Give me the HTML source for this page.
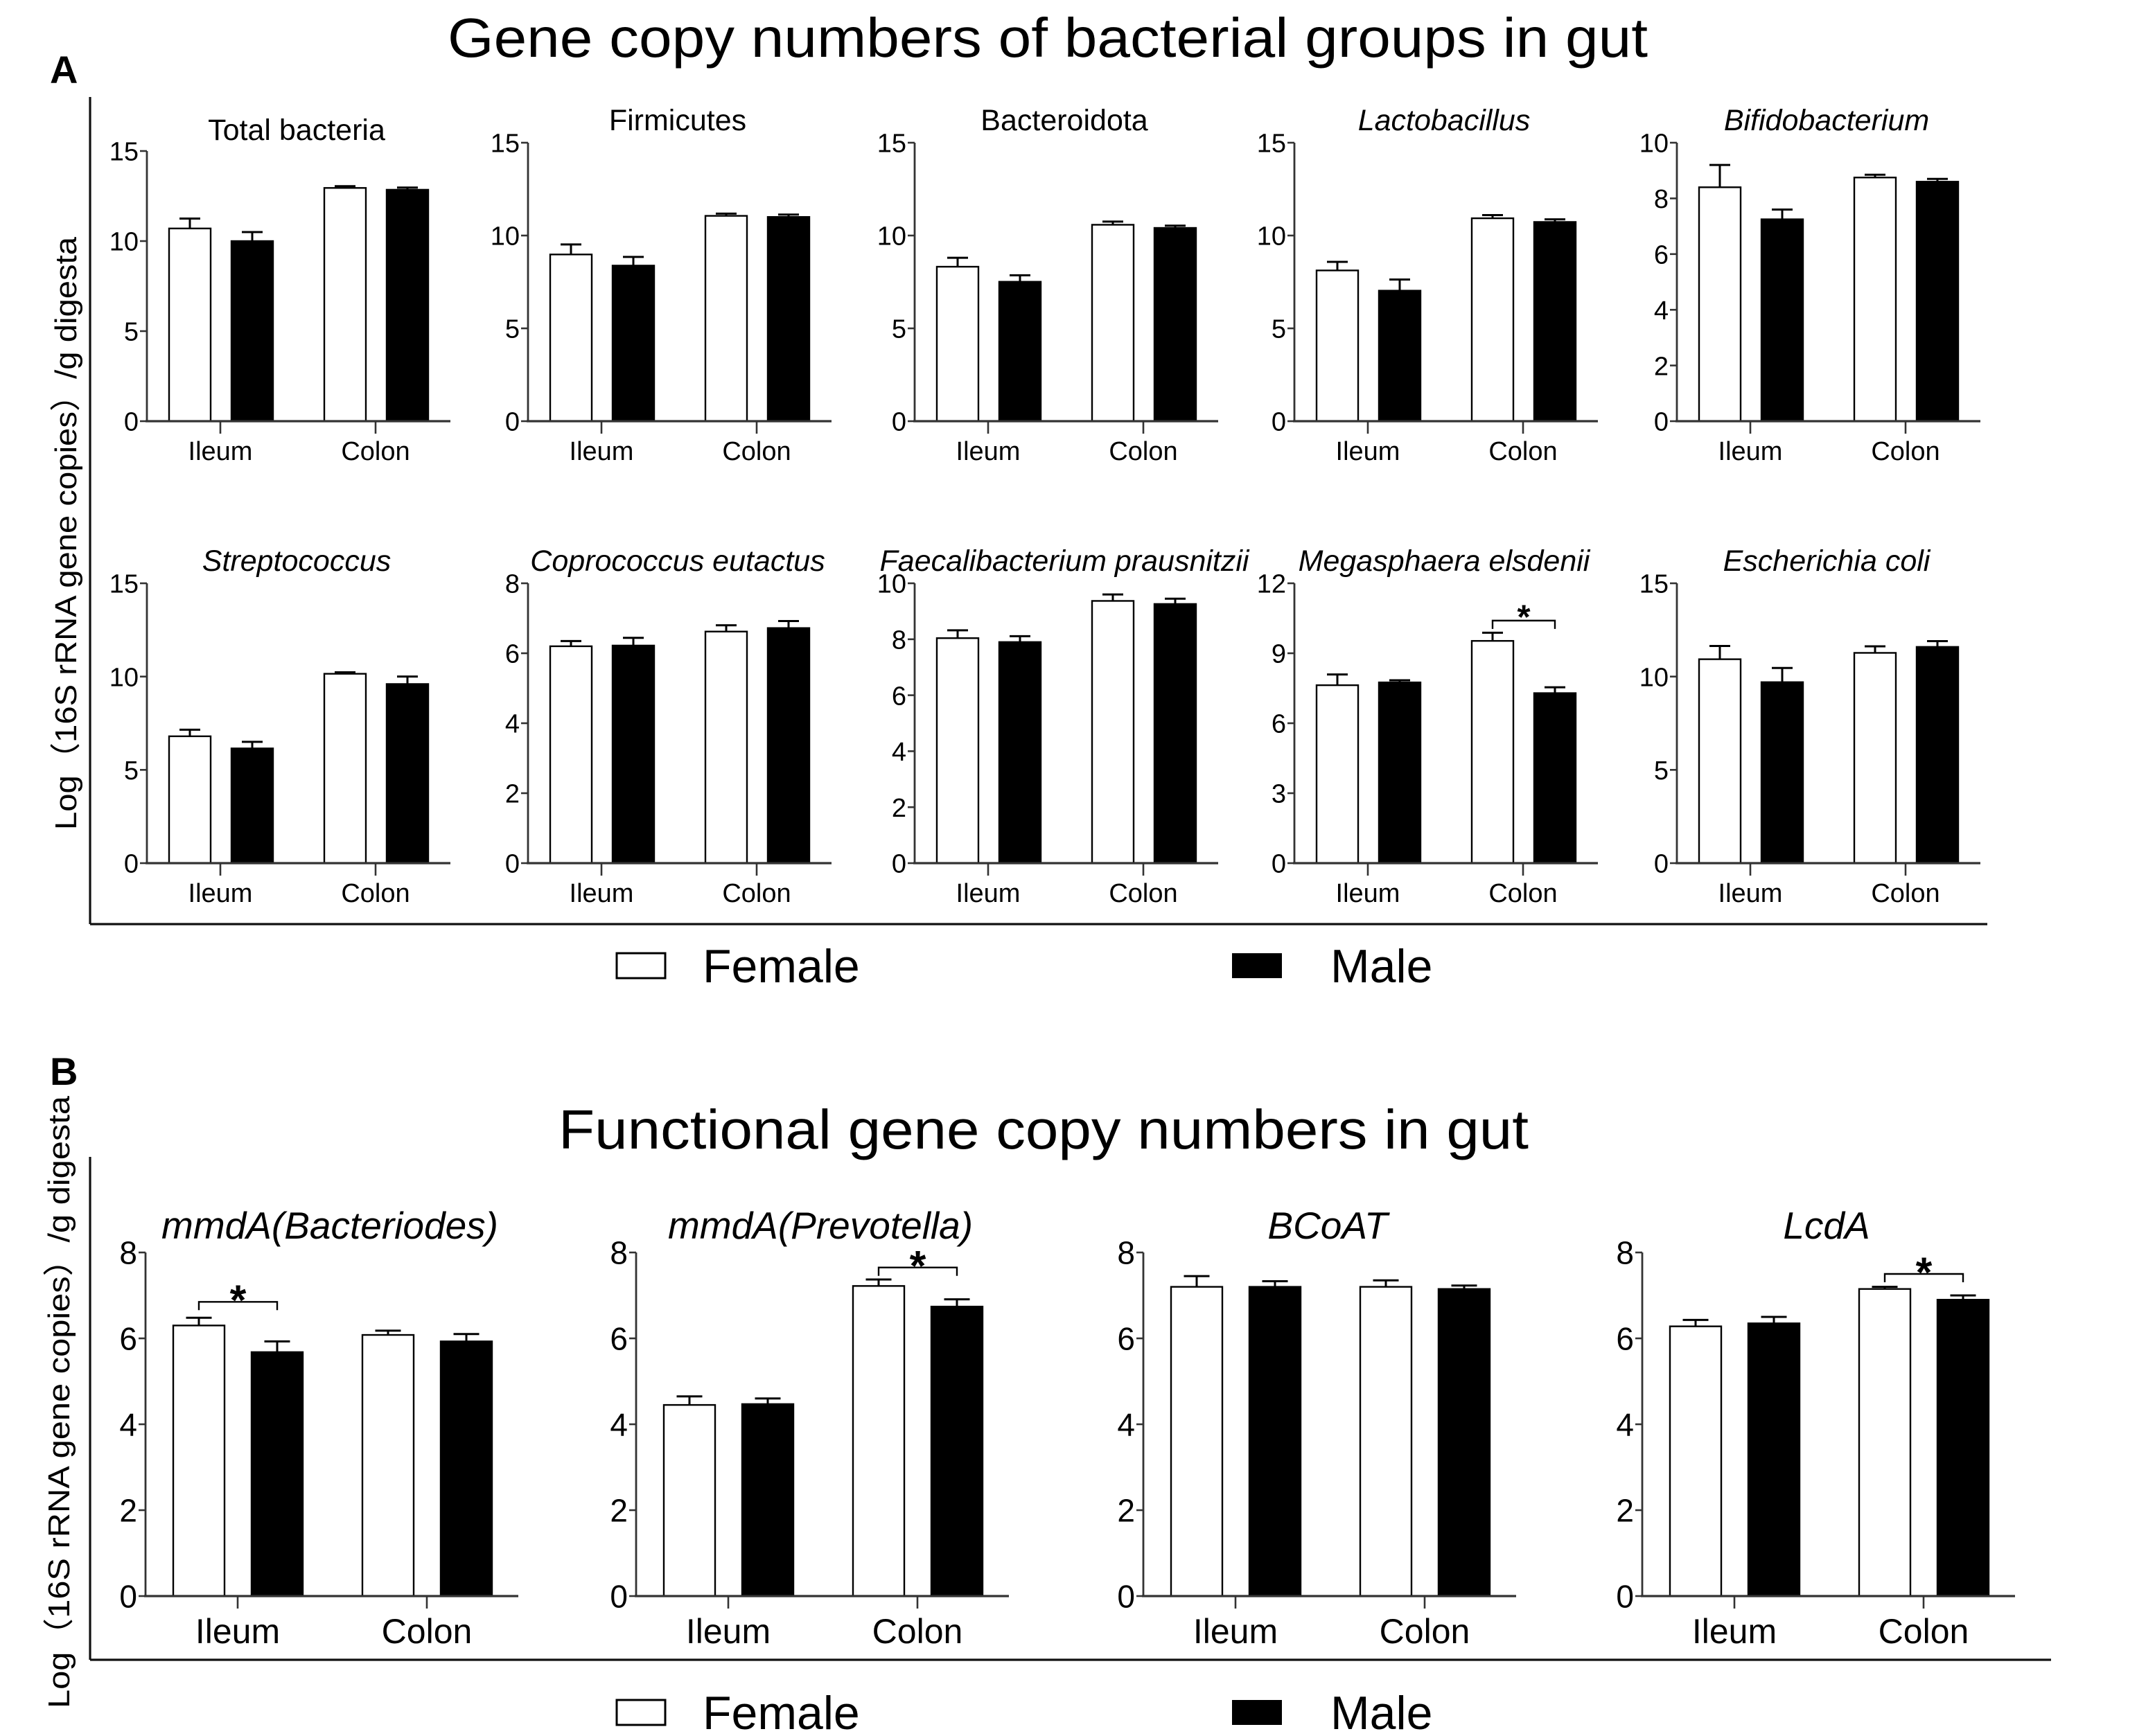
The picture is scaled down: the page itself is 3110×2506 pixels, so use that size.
<!DOCTYPE html>
<html><head><meta charset="utf-8"><title>Gene copy numbers</title>
<style>
html,body{margin:0;padding:0;background:#fff;}
svg{display:block;}
text{font-family:"Liberation Sans","Noto Sans CJK SC",sans-serif;fill:#000;}
</style></head>
<body>
<svg id="fig" xmlns="http://www.w3.org/2000/svg" width="3110" height="2506" viewBox="0 0 1555 1253">
<rect x="0" y="0" width="1555" height="1253" fill="#fff"/>
<text x="756" y="41" text-anchor="middle" font-size="40" textLength="866" lengthAdjust="spacingAndGlyphs">Gene copy numbers of bacterial groups in gut</text>
<text x="36" y="60" font-size="28" font-weight="bold">A</text>
<text x="753" y="829" text-anchor="middle" font-size="40" textLength="700" lengthAdjust="spacingAndGlyphs">Functional gene copy numbers in gut</text>
<text x="36" y="783" font-size="28" font-weight="bold">B</text>
<line x1="65" y1="70" x2="65" y2="667" stroke="#111" stroke-width="1.6"/>
<line x1="65" y1="667" x2="1434" y2="667" stroke="#111" stroke-width="1.6"/>
<line x1="65" y1="835" x2="65" y2="1198" stroke="#111" stroke-width="1.6"/>
<line x1="65" y1="1198" x2="1480" y2="1198" stroke="#111" stroke-width="1.6"/>
<text transform="translate(55,385) rotate(-90)" text-anchor="middle" font-size="22" textLength="428" lengthAdjust="spacingAndGlyphs">Log（16S rRNA gene copies）/g digesta</text>
<text transform="translate(50,1012) rotate(-90)" text-anchor="middle" font-size="22" textLength="442" lengthAdjust="spacingAndGlyphs">Log（16S rRNA gene copies）/g digesta</text>
<rect x="445" y="688" width="35" height="18" fill="#fff" stroke="#000" stroke-width="1.5"/>
<text x="507" y="709" font-size="34">Female</text>
<rect x="889" y="688" width="36" height="18" fill="#000"/>
<text x="960" y="709" font-size="34">Male</text>
<rect x="445" y="1227" width="35" height="18" fill="#fff" stroke="#000" stroke-width="1.5"/>
<text x="507" y="1248" font-size="34">Female</text>
<rect x="889" y="1227" width="36" height="18" fill="#000"/>
<text x="960" y="1248" font-size="34">Male</text>
<g id="plots"></g>
</svg>
<script>
// ---------- data ----------
const categories = ["Ileum", "Colon"];
const panelTitles = ["Total bacteria","Firmicutes","Bacteroidota","Lactobacillus","Bifidobacterium",
  "Streptococcus","Coprococcus eutactus","Faecalibacterium prausnitzii","Megasphaera elsdenii","Escherichia coli",
  "mmdA(Bacteriodes)","mmdA(Prevotella)","BCoAT","LcdA"];
const titleItalic = [false,false,false,true,true,true,true,true,true,true,true,true,true,true];
const femaleMeans = [[10.7,12.95],[8.98,11.06],[8.32,10.58],[8.12,10.93],[8.4,8.75],
  [6.8,10.15],[6.2,6.62],[8.04,9.37],[7.63,9.53],[10.93,11.27],
  [6.3,6.08],[4.45,7.22],[7.2,7.2],[6.28,7.15]];
const femaleErrs = [[0.55,0.1],[0.54,0.12],[0.48,0.17],[0.46,0.17],[0.8,0.1],
  [0.35,0.08],[0.15,0.18],[0.28,0.23],[0.46,0.35],[0.71,0.35],
  [0.18,0.1],[0.2,0.15],[0.25,0.15],[0.15,0.05]];
const maleMeans = [[10.0,12.85],[8.38,11.0],[7.51,10.41],[7.03,10.73],[7.25,8.6],
  [6.15,9.6],[6.22,6.72],[7.9,9.26],[7.75,7.29],[9.7,11.59],
  [5.68,5.93],[4.47,6.74],[7.2,7.15],[6.35,6.9]];
const maleErrs = [[0.5,0.12],[0.47,0.13],[0.35,0.12],[0.6,0.14],[0.35,0.1],
  [0.35,0.4],[0.22,0.2],[0.21,0.19],[0.09,0.25],[0.76,0.31],
  [0.25,0.17],[0.13,0.17],[0.13,0.08],[0.15,0.1]];
const yMaxes = [15,15,15,15,10,15,8,10,12,15,8,8,8,8];
const ySteps = [5,5,5,5,2,5,2,2,3,5,2,2,2,2];
const sigPanels = [8,10,11,13];
const sigGroups = [1,0,1,1];
const sigLevels = [10.4,6.85,7.65,7.5];

// ---------- layout (pixel geometry, not data) ----------
const layoutA = {barW:30, fOff:-37, mOff:8, groupX:[53,165], axisEnd:219, tickFont:19, catFont:19, titleFont:21.5, catDy:28, titleDx:108};
const layoutB = {barW:37, fOff:-46.5, mOff:10, groupX:[66.5,203], axisEnd:269, tickFont:23, catFont:25, titleFont:27.5, catDy:34, titleDx:133};
const panelGeom = [
  {ax:106,top:109,zero:304,ty:101,L:layoutA},{ax:381,top:103,zero:304,ty:94,L:layoutA},
  {ax:660,top:103,zero:304,ty:94,L:layoutA},{ax:934,top:103,zero:304,ty:94,L:layoutA},
  {ax:1210,top:103,zero:304,ty:94,L:layoutA},
  {ax:106,top:421,zero:623,ty:412,L:layoutA},{ax:381,top:421,zero:623,ty:412,L:layoutA},
  {ax:660,top:421,zero:623,ty:412,L:layoutA},{ax:934,top:421,zero:623,ty:412,L:layoutA},
  {ax:1210,top:421,zero:623,ty:412,L:layoutA},
  {ax:105,top:904,zero:1152,ty:894,L:layoutB},{ax:459,top:904,zero:1152,ty:894,L:layoutB},
  {ax:825,top:904,zero:1152,ty:894,L:layoutB},{ax:1185,top:904,zero:1152,ty:894,L:layoutB}
];

const NS = "http://www.w3.org/2000/svg";
const root = document.getElementById("plots");
function mk(tag, attrs, parent){
  const el = document.createElementNS(NS, tag);
  for (const k in attrs) el.setAttribute(k, attrs[k]);
  (parent||root).appendChild(el);
  return el;
}
function slug(s){return s.toLowerCase().replace(/[^a-z0-9]+/g,'-').replace(/^-|-$/g,'');}

panelGeom.forEach(function(g, i){
  const L = g.L;
  const yScale = function(v){ return g.zero - (v / yMaxes[i]) * (g.zero - g.top); };
  const name = slug(panelTitles[i]);
  const grp = mk("g", {});
  
  
  const t = mk("text", {x: g.ax + L.titleDx, y: g.ty, "text-anchor":"middle", "font-size": L.titleFont, "font-style": titleItalic[i] ? "italic" : "normal"}, grp);
  t.textContent = panelTitles[i];
  
  
  const ya = mk("line", {x1:g.ax, y1:g.top, x2:g.ax, y2:g.zero, stroke:"#333", "stroke-width":1.4}, grp);
  
  
  for (let v = 0; v <= yMaxes[i] + 1e-9; v += ySteps[i]) {
    const y = yScale(v);
    const tk = mk("line", {x1:g.ax-5, y1:y, x2:g.ax, y2:y, stroke:"#333", "stroke-width":1.3}, grp);
    
    
    const tl = mk("text", {x:g.ax-6, y:y + L.tickFont*0.36, "text-anchor":"end", "font-size":L.tickFont}, grp);
    tl.textContent = String(v);
    
    
  }
  categories.forEach(function(cat, c){
    const cx = g.ax + L.groupX[c];
    const series = [
      {m: femaleMeans[i][c], e: femaleErrs[i][c], off: L.fOff, fill:"#fff", nm:"female"},
      {m: maleMeans[i][c], e: maleErrs[i][c], off: L.mOff, fill:"#000", nm:"male"}
    ];
    series.forEach(function(s){
      const x = cx + s.off;
      const yTop = yScale(s.m);
      const yErr = yScale(s.m + s.e);
      const mid = x + L.barW/2;
      const cap = L.barW/2;
      const el = mk("line", {x1:mid, y1:yTop, x2:mid, y2:yErr, stroke:"#000", "stroke-width":1.5}, grp);
      
      
      const ec = mk("line", {x1:mid-cap/2, y1:yErr, x2:mid+cap/2, y2:yErr, stroke:"#000", "stroke-width":1.5}, grp);
      
      
      const b = mk("rect", {x:x, y:yTop, width:L.barW, height:g.zero - yTop, fill:s.fill, stroke:"#000", "stroke-width":1.2}, grp);
      
      
    });
    const xt = mk("line", {x1:cx, y1:g.zero, x2:cx, y2:g.zero+9, stroke:"#333", "stroke-width":1.3}, grp);
    
    
    const xl = mk("text", {x:cx, y:g.zero + L.catDy, "text-anchor":"middle", "font-size":L.catFont}, grp);
    xl.textContent = cat;
    
    
  });
  const xa = mk("line", {x1:g.ax-1, y1:g.zero, x2:g.ax + L.axisEnd, y2:g.zero, stroke:"#333", "stroke-width":1.6}, grp);
  
  
  const si = sigPanels.indexOf(i);
  if (si >= 0) {
    const cx = g.ax + L.groupX[sigGroups[si]];
    const x1 = cx + L.fOff + L.barW/2, x2 = cx + L.mOff + L.barW/2;
    const y = yScale(sigLevels[si]);
    const br = mk("path", {d:"M"+x1+","+(y+6)+" V"+y+" H"+x2+" V"+(y+6), fill:"none", stroke:"#000", "stroke-width":1.2}, grp);
    
    
    const st = mk("text", {x:(x1+x2)/2, y:y + L.titleFont*0.55 - 6, "text-anchor":"middle", "font-size": L.titleFont + 3, "font-weight":"bold"}, grp);
    st.textContent = "*";
    
    
  }
});
</script>
</body></html>
